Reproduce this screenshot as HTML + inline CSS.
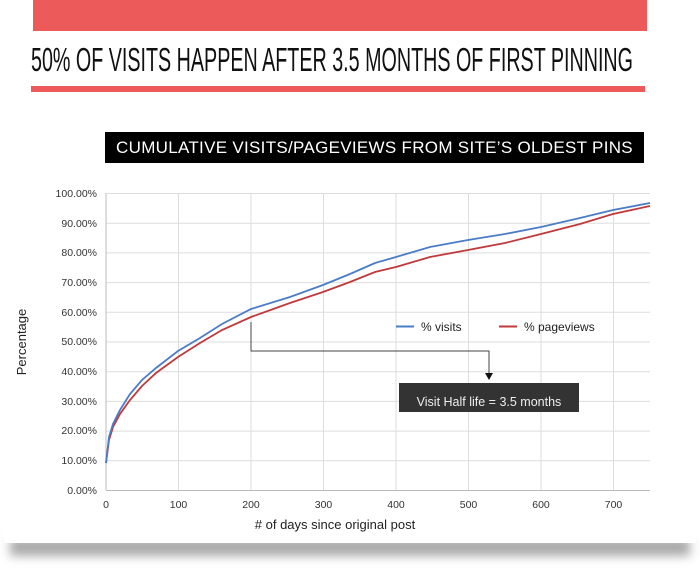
<!DOCTYPE html>
<html><head><meta charset="utf-8"><style>
body{margin:0;background:#fff;width:700px;height:568px;overflow:hidden;position:relative;font-family:"Liberation Sans",sans-serif}
.shadow{position:absolute;left:10px;top:538px;width:680px;height:18px;background:#aaa;filter:blur(5px)}
.card{position:absolute;left:4px;top:0;width:692px;height:543px;background:#fff}
</style></head><body>
<div class="shadow"></div>
<div class="card"></div>
<div style="position:absolute;left:33px;top:0;width:614px;height:31px;background:#ec5a5a"></div>
<div style="position:absolute;left:31px;top:86px;width:614px;height:6px;background:#ec5a5a"></div>
<div style="position:absolute;left:105px;top:132px;width:539px;height:31px;background:#000;color:#fff;font-size:17px;line-height:31px;text-align:center;letter-spacing:0.3px">CUMULATIVE VISITS/PAGEVIEWS FROM SITE’S OLDEST PINS</div>
<svg width="700" height="568" style="position:absolute;left:0;top:0" font-family="Liberation Sans, sans-serif">
<text x="31" y="71" font-size="33" fill="#111" textLength="602" lengthAdjust="spacingAndGlyphs">50% OF VISITS HAPPEN AFTER 3.5 MONTHS OF FIRST PINNING</text>
<g stroke="#ddd" stroke-width="1">
<line x1="106" y1="193.5" x2="650" y2="193.5"/><line x1="106" y1="223.2" x2="650" y2="223.2"/><line x1="106" y1="252.9" x2="650" y2="252.9"/><line x1="106" y1="282.6" x2="650" y2="282.6"/><line x1="106" y1="312.3" x2="650" y2="312.3"/><line x1="106" y1="342" x2="650" y2="342"/><line x1="106" y1="371.7" x2="650" y2="371.7"/><line x1="106" y1="401.4" x2="650" y2="401.4"/><line x1="106" y1="431.1" x2="650" y2="431.1"/><line x1="106" y1="460.8" x2="650" y2="460.8"/>
<line x1="178.5" y1="193" x2="178.5" y2="490"/><line x1="251" y1="193" x2="251" y2="490"/><line x1="323.5" y1="193" x2="323.5" y2="490"/><line x1="396" y1="193" x2="396" y2="490"/><line x1="468.5" y1="193" x2="468.5" y2="490"/><line x1="541" y1="193" x2="541" y2="490"/><line x1="613.5" y1="193" x2="613.5" y2="490"/>
</g>
<line x1="106" y1="490.5" x2="650" y2="490.5" stroke="#bbb"/>
<line x1="106" y1="193" x2="106" y2="490" stroke="#bbb"/>
<g font-size="10.5" fill="#333" text-anchor="end">
<text x="97" y="197">100.00%</text><text x="97" y="227">90.00%</text><text x="97" y="256">80.00%</text><text x="97" y="286">70.00%</text><text x="97" y="316">60.00%</text><text x="97" y="345">50.00%</text><text x="97" y="375">40.00%</text><text x="97" y="405">30.00%</text><text x="97" y="434">20.00%</text><text x="97" y="464">10.00%</text><text x="97" y="494">0.00%</text>
</g>
<g font-size="10.5" fill="#333" text-anchor="middle">
<text x="106" y="508">0</text><text x="178.5" y="508">100</text><text x="251" y="508">200</text><text x="323.5" y="508">300</text><text x="396" y="508">400</text><text x="468.5" y="508">500</text><text x="541" y="508">600</text><text x="613.5" y="508">700</text>
</g>
<text x="335" y="529" font-size="13" fill="#222" text-anchor="middle"># of days since original post</text>
<text transform="translate(26,342) rotate(-90)" font-size="13" fill="#222" text-anchor="middle">Percentage</text>
<path d="M106,463 L109,440 L113,427 L120,414 L130,400 L142,386 L156,373 L178,357 L200,343 L222,330 L251,317 L290,303 L323,292 L350,282 L375,272 L396,267 L430,257 L468,250 L505,243 L541,234 L580,224 L613,214 L650,206" fill="none" stroke="#c0393b" stroke-width="1.8"/>
<path d="M106,463 L109,437 L113,424 L120,410 L130,394 L142,380 L156,368 L178,351 L200,338 L222,324 L251,309 L290,297 L323,285 L350,274 L375,263 L396,257 L430,247 L468,240 L505,234 L541,227 L580,218 L613,210 L650,203" fill="none" stroke="#4a7cc7" stroke-width="1.8"/>
<line x1="396" y1="326.5" x2="414" y2="326.5" stroke="#4a7cc7" stroke-width="2"/>
<text x="421" y="331" font-size="12" fill="#222">% visits</text>
<line x1="499" y1="326.5" x2="517" y2="326.5" stroke="#c0393b" stroke-width="2"/>
<text x="524" y="331" font-size="12" fill="#222">% pageviews</text>
<path d="M251,322 V351 H489 V374" fill="none" stroke="#444" stroke-width="1"/>
<path d="M485,373 L493,373 L489,380 Z" fill="#111"/>
<rect x="399" y="383" width="180" height="29" fill="#333"/>
<text x="489" y="406" font-size="12.5" fill="#eee" text-anchor="middle">Visit Half life = 3.5 months</text>
</svg>
</body></html>
